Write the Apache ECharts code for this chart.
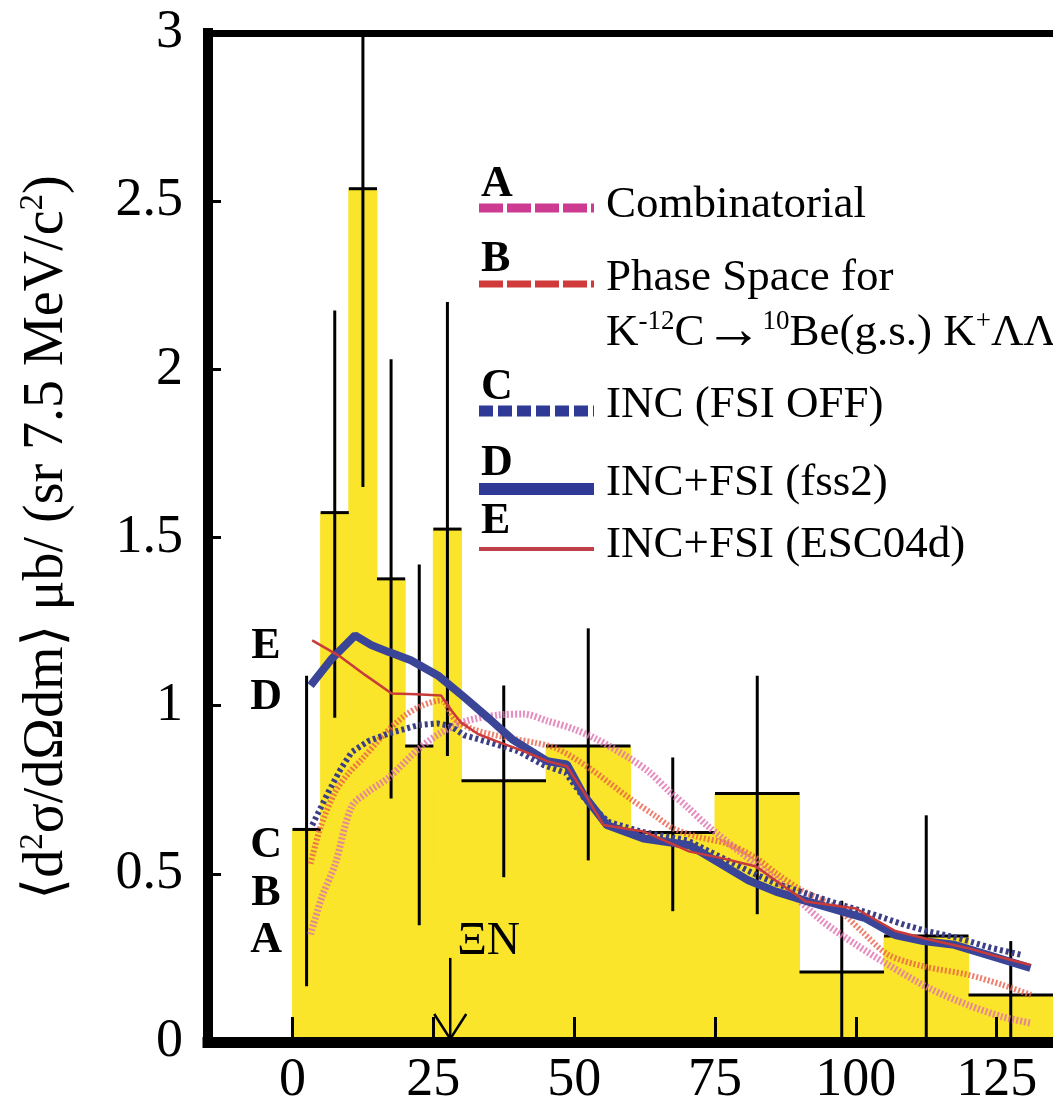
<!DOCTYPE html>
<html>
<head>
<meta charset="utf-8">
<script src="https://cdn.jsdelivr.net/npm/echarts@6/dist/echarts.min.js"></script>
<style>
html, body { margin: 0; padding: 0; background: #fff; }
#chart { width: 1053px; height: 1108px; }
</style>
</head>
<body>
<div id="chart"></div>
<script>
// histogram (MeV bins) with error bars
var binEdges  = [0, 5, 10, 15, 20, 25, 30, 45, 60, 75, 90, 105, 120, 135];
var binValues = [0.632, 1.574, 2.537, 1.377, 0.88, 1.525, 0.777, 0.88, 0.623, 0.739, 0.208, 0.315, 0.14];
var errLow    = [0.166, 0.964, 1.65, 0.724, 0.347, 0.85, 0.49, 0.54, 0.389, 0.38, 0, 0, 0];
var errHigh   = [1.089, 2.175, 3.2, 2.03, 1.42, 2.2, 1.06, 1.23, 0.846, 1.089, 0.42, 0.674, 0.30];
var xTicks = [0, 25, 50, 75, 100, 125];

// model curves [MeV, value]
var curveA = [[3.2,0.32],[5.2,0.43],[7.6,0.53],[10.5,0.70],[13.5,0.745],[17,0.785],[22.3,0.87],[26.4,0.92],[31,0.955],[36.4,0.972],[41,0.975],[45.2,0.955],[50,0.93],[54,0.90],[59.9,0.843],[63.5,0.80],[66.9,0.745],[70,0.70],[73.5,0.645],[79.3,0.567],[87,0.466],[94,0.36],[100,0.29],[105.7,0.23],[113,0.16],[119.9,0.11],[126,0.075],[131.1,0.056]];
var curveB = [[3.2,0.53],[5,0.64],[7.6,0.744],[10,0.80],[12.3,0.84],[16,0.91],[19.9,0.97],[23,1.0],[26.4,1.016],[28.8,0.96],[32,0.93],[38,0.905],[43,0.89],[47,0.872],[52.8,0.813],[59.9,0.724],[64.6,0.67],[67.6,0.635],[72,0.61],[77,0.59],[82,0.55],[86,0.50],[90,0.455],[96.4,0.40],[101,0.33],[105.7,0.26],[112,0.225],[119.9,0.20],[126,0.17],[131.1,0.14]];
var curveC = [[3.5,0.645],[6.4,0.744],[8.5,0.81],[10.5,0.862],[13.5,0.895],[17,0.917],[22.3,0.942],[25.8,0.947],[28,0.94],[30.5,0.912],[35.5,0.888],[40,0.865],[44.6,0.823],[48.5,0.80],[52,0.72],[56,0.655],[62,0.625],[70,0.60],[76,0.55],[82,0.50],[86,0.47],[91.1,0.442],[97,0.41],[103,0.38],[108.7,0.348],[112.8,0.329],[118,0.31],[124,0.28],[129.4,0.259]];
var curveD = [[3.2,1.06],[7,1.14],[11.1,1.209],[14,1.18],[17,1.16],[21,1.135],[25.8,1.09],[30.5,1.025],[35,0.96],[39,0.90],[45.2,0.835],[48.7,0.825],[51.7,0.734],[55.8,0.645],[62.3,0.605],[70.5,0.585],[76.4,0.526],[81,0.48],[85.8,0.447],[92,0.415],[97.5,0.388],[101.7,0.368],[107,0.318],[112,0.30],[117.5,0.289],[123.4,0.259],[131,0.22]];
var curveE = [[3.5,1.194],[8.2,1.149],[13,1.09],[17.6,1.036],[22,1.034],[26.4,1.03],[28,0.99],[29.9,0.95],[33,0.915],[36.4,0.893],[41,0.865],[45.2,0.835],[48.7,0.82],[52,0.735],[55.2,0.645],[62.3,0.626],[70.5,0.566],[76.4,0.546],[82.3,0.522],[86,0.477],[91.1,0.418],[100,0.397],[107,0.33],[113,0.305],[119.9,0.279],[125,0.255],[131,0.229]];

var curveKeys  = ['A', 'B', 'C', 'D', 'E'];
var curveNames = ['Combinatorial', 'Phase Space for', 'INC (FSI OFF)', 'INC+FSI (fss2)', 'INC+FSI (ESC04d)'];
// tags at the left end of the curves
var curveTags = [['E', -4.7, 1.175], ['D', -4.7, 1.025], ['C', -4.7, 0.585], ['B', -4.7, 0.44], ['A', -4.7, 0.30]];
var xiNThreshold = 28;
var xiNArrowTop = 0.25;

var serif = '"Liberation Serif", "DejaVu Serif", serif';
var yellow = '#fae52a';

var lineStyles = [
    { color: '#e070b0', width: 7, type: [2, 2], opacity: 0.8 },
    { color: '#e8604a', width: 6, type: [2, 2], opacity: 0.8 },
    { color: '#3c3f85', width: 6, type: [3, 3] },
    { color: '#3b4598', width: 8 },
    { color: '#c93a3a', width: 2.5 }
];
var curves = [curveA, curveB, curveC, curveD, curveE];

var histData = binValues.map(function (v, i) {
    return [binEdges[i], binEdges[i + 1], v, errLow[i], errHigh[i]];
});

function renderBar(params, api) {
    var p0 = api.coord([api.value(0), api.value(2)]);
    var p1 = api.coord([api.value(1), 0]);
    return {
        type: 'rect',
        shape: { x: p0[0], y: p0[1], width: p1[0] - p0[0], height: p1[1] - p0[1] },
        style: { fill: yellow, stroke: yellow, lineWidth: 1 }
    };
}

function renderErr(params, api) {
    var lo = api.value(0), hi = api.value(1), mid = (lo + hi) / 2;
    var a = api.coord([lo, api.value(2)]);
    var b = api.coord([hi, api.value(2)]);
    var t = api.coord([mid, api.value(4)]);
    var u = api.coord([mid, api.value(3)]);
    var st = { stroke: '#000', lineWidth: 3 };
    return {
        type: 'group',
        children: [
            { type: 'line', shape: { x1: a[0], y1: a[1], x2: b[0], y2: b[1] }, style: st },
            { type: 'line', shape: { x1: t[0], y1: t[1], x2: u[0], y2: u[1] }, style: st }
        ]
    };
}

function renderArrow(params, api) {
    var top = api.coord([api.value(0), api.value(1)]);
    var bot = api.coord([api.value(0), 0]);
    var st = { stroke: '#000', lineWidth: 2.5, fill: null };
    return {
        type: 'group',
        children: [
            { type: 'line', shape: { x1: top[0], y1: top[1], x2: bot[0], y2: bot[1] - 2 }, style: st },
            { type: 'polyline', shape: { points: [[bot[0] - 16, bot[1] - 28], [bot[0], bot[1] - 3], [bot[0] + 16, bot[1] - 28]] }, style: st },
            { type: 'text', x: top[0] + 7, y: top[1] + 7, style: { text: 'ΞN', fontFamily: serif, fontSize: 46, fill: '#000', align: 'left', verticalAlign: 'bottom' } }
        ]
    };
}

var series = [
    { type: 'custom', renderItem: renderBar, data: histData, clip: true, z: 1 },
    { type: 'custom', renderItem: renderErr, data: histData, clip: true, z: 2 }
];
curves.forEach(function (c, i) {
    series.push({
        type: 'line',
        name: curveNames[i],
        data: c,
        showSymbol: false,
        smooth: i < 2 ? 0.3 : false,
        lineStyle: lineStyles[i],
        z: 3 + i
    });
});
series.push({ type: 'custom', renderItem: renderArrow, data: [[xiNThreshold, xiNArrowTop]], z: 9 });
series.push({
    type: 'scatter',
    data: curveTags.map(function (t) { return [t[1], t[2], t[0]]; }),
    symbolSize: 1,
    itemStyle: { color: 'rgba(0,0,0,0)' },
    label: {
        show: true, position: 'inside',
        formatter: function (p) { return p.value[2]; },
        fontFamily: serif, fontWeight: 'bold', fontSize: 44, color: '#000',
        textBorderWidth: 0, opacity: 1
    },
    z: 9
});

// legend drawn by hand: letter above a sample line, text to the right
var legendLetterY = [185, 260, 388, 464, 522];
var legendLineY   = [208, 284, 411, 489, 549];
var legendTextY   = [205, 278, 405, 483, 545];
var legendSample  = [
    { stroke: '#cc3a92', lineWidth: 9, lineDash: [24, 4] },
    { stroke: '#d03a3a', lineWidth: 7, lineDash: [24, 4] },
    { stroke: '#2e3a96', lineWidth: 11, lineDash: [14, 5] },
    { stroke: '#2e3a96', lineWidth: 12 },
    { stroke: '#c0404a', lineWidth: 4 }
];
var graphics = [];
curveKeys.forEach(function (k, i) {
    graphics.push({ type: 'text', x: 481, y: legendLetterY[i], z: 20,
        style: { text: k, fontFamily: serif, fontWeight: 'bold', fontSize: 44, fill: '#000', verticalAlign: 'middle' } });
    graphics.push({ type: 'line', z: 20, shape: { x1: 479, y1: legendLineY[i], x2: 594, y2: legendLineY[i] },
        style: legendSample[i] });
    graphics.push({ type: 'text', x: 606, y: legendTextY[i], z: 20,
        style: { text: curveNames[i], fontFamily: serif, fontSize: 45, fill: '#000', verticalAlign: 'middle' } });
});
graphics.push({ type: 'text', x: 606, y: 333, z: 20,
    style: {
        text: '{n|K}{s|-12}{n|C}{a|→}{s|10}{n|Be(g.s.) K}{s|+}{n|ΛΛ}',
        verticalAlign: 'middle',
        rich: {
            n: { fontFamily: serif, fontSize: 45, lineHeight: 50, color: '#000' },
            a: { fontFamily: serif, fontSize: 58, lineHeight: 50, color: '#000' },
            s: { fontFamily: serif, fontSize: 27, lineHeight: 26, verticalAlign: 'top', color: '#000' }
        }
    }
});

var chart = echarts.init(document.getElementById('chart'));
chart.setOption({
    backgroundColor: '#fff',
    animation: false,
    grid: { left: 208, right: -6, top: 33, bottom: 64 },
    xAxis: [{
        type: 'value', min: -15, max: 135, position: 'bottom', z: 10,
        axisLine: { show: true, onZero: false, lineStyle: { color: '#000', width: 11, cap: 'square' } },
        axisTick: { show: true, inside: true, length: 25, customValues: xTicks, lineStyle: { color: '#000', width: 3 } },
        axisLabel: { customValues: xTicks, fontFamily: serif, fontSize: 54, color: '#000', margin: 12 },
        splitLine: { show: false }
    }, {
        type: 'value', min: -15, max: 135, position: 'top', z: 10,
        axisLine: { show: true, onZero: false, lineStyle: { color: '#000', width: 7, cap: 'square' } },
        axisTick: { show: false }, axisLabel: { show: false }, splitLine: { show: false }
    }],
    yAxis: {
        type: 'value', min: 0, max: 3, interval: 0.5, z: 10,
        axisLine: { show: true, onZero: false, lineStyle: { color: '#000', width: 10, cap: 'square' } },
        axisTick: { show: true, inside: true, length: 13, lineStyle: { color: '#000', width: 3 } },
        axisLabel: { fontFamily: serif, fontSize: 54, color: '#000', margin: 25 },
        splitLine: { show: false },
        name: '{n|⟨d}{s|2}{n|σ/dΩdm⟩ μb/ (sr 7.5 MeV/c}{s|2}{n|)}',
        nameLocation: 'middle', nameRotate: 90, nameGap: 131,
        nameTextStyle: {
            rich: {
                n: { fontFamily: serif, fontSize: 56, lineHeight: 60, color: '#000' },
                s: { fontFamily: serif, fontSize: 33, lineHeight: 30, verticalAlign: 'top', color: '#000' }
            }
        }
    },
    series: series,
    graphic: graphics
});
</script>
</body>
</html>
